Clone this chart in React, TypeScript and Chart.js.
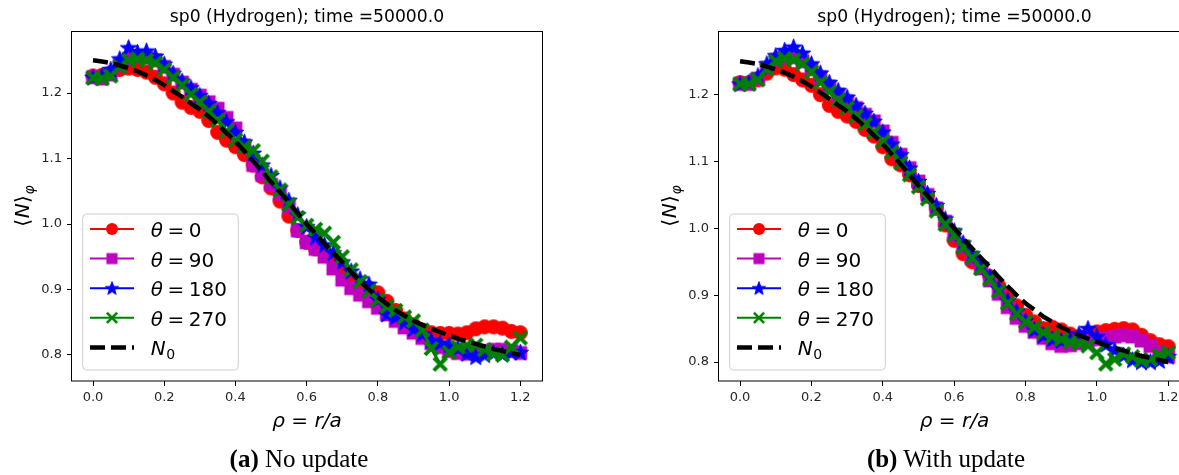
import React, { useEffect, useRef } from 'react';
import { Chart, registerables } from 'chart.js';

Chart.register(...registerables);

// ---------- data ----------
const RHO = [0, 0.025, 0.05, 0.075, 0.1, 0.125, 0.15, 0.175, 0.2, 0.225, 0.25, 0.275, 0.3, 0.325, 0.35, 0.375, 0.4, 0.425, 0.45, 0.475, 0.5, 0.525, 0.55, 0.575, 0.6, 0.625, 0.65, 0.675, 0.7, 0.725, 0.75, 0.775, 0.8, 0.825, 0.85, 0.875, 0.9, 0.925, 0.95, 0.975, 1.0, 1.025, 1.05, 1.075, 1.1, 1.125, 1.15, 1.175, 1.2];

const N0 = [1.250, 1.248, 1.246, 1.242, 1.238, 1.233, 1.227, 1.220, 1.212, 1.203, 1.194, 1.184, 1.175, 1.164, 1.152, 1.139, 1.126, 1.111, 1.096, 1.080, 1.064, 1.049, 1.033, 1.016, 1.000, 0.985, 0.970, 0.956, 0.942, 0.927, 0.913, 0.900, 0.888, 0.878, 0.868, 0.860, 0.852, 0.846, 0.840, 0.835, 0.830, 0.825, 0.821, 0.817, 0.813, 0.809, 0.806, 0.803, 0.800];

// (a) No update
const A_THETA_0 = [1.226, 1.227, 1.231, 1.236, 1.238, 1.236, 1.232, 1.224, 1.214, 1.200, 1.186, 1.178, 1.172, 1.158, 1.140, 1.128, 1.118, 1.106, 1.090, 1.072, 1.055, 1.035, 1.012, 0.990, 0.972, 0.962, 0.958, 0.945, 0.930, 0.918, 0.905, 0.902, 0.895, 0.882, 0.868, 0.855, 0.846, 0.838, 0.834, 0.833, 0.833, 0.832, 0.834, 0.840, 0.843, 0.843, 0.841, 0.836, 0.834];
const A_THETA_90 = [1.224, 1.222, 1.228, 1.242, 1.252, 1.256, 1.254, 1.250, 1.240, 1.228, 1.216, 1.205, 1.196, 1.186, 1.176, 1.162, 1.146, 1.120, 1.090, 1.075, 1.060, 1.046, 1.026, 0.990, 0.972, 0.962, 0.950, 0.932, 0.915, 0.902, 0.892, 0.882, 0.872, 0.862, 0.852, 0.842, 0.834, 0.826, 0.818, 0.812, 0.806, 0.803, 0.802, 0.803, 0.806, 0.808, 0.808, 0.806, 0.803];
const A_THETA_180 = [1.224, 1.226, 1.236, 1.252, 1.269, 1.262, 1.264, 1.256, 1.244, 1.230, 1.218, 1.208, 1.196, 1.184, 1.170, 1.156, 1.140, 1.125, 1.108, 1.090, 1.074, 1.055, 1.036, 1.014, 0.996, 0.980, 0.968, 0.956, 0.942, 0.928, 0.916, 0.908, 0.885, 0.862, 0.858, 0.850, 0.840, 0.832, 0.822, 0.818, 0.815, 0.810, 0.802, 0.797, 0.800, 0.803, 0.801, 0.804, 0.804];
const A_THETA_270 = [1.223, 1.222, 1.226, 1.240, 1.250, 1.252, 1.250, 1.246, 1.236, 1.224, 1.212, 1.198, 1.186, 1.172, 1.158, 1.142, 1.128, 1.118, 1.112, 1.096, 1.072, 1.052, 1.030, 1.010, 0.998, 0.992, 0.986, 0.972, 0.950, 0.930, 0.912, 0.898, 0.884, 0.874, 0.868, 0.858, 0.852, 0.838, 0.810, 0.786, 0.804, 0.812, 0.815, 0.815, 0.808, 0.802, 0.800, 0.812, 0.826];

// (b) With update
const B_THETA_0 = [1.218, 1.218, 1.222, 1.232, 1.240, 1.238, 1.230, 1.222, 1.214, 1.200, 1.184, 1.175, 1.168, 1.160, 1.148, 1.138, 1.122, 1.104, 1.095, 1.080, 1.064, 1.048, 1.030, 1.005, 0.982, 0.962, 0.950, 0.942, 0.928, 0.914, 0.900, 0.884, 0.870, 0.860, 0.850, 0.852, 0.848, 0.842, 0.838, 0.840, 0.845, 0.847, 0.849, 0.850, 0.848, 0.840, 0.832, 0.826, 0.823];
const B_THETA_90 = [1.216, 1.216, 1.224, 1.240, 1.252, 1.256, 1.256, 1.250, 1.238, 1.226, 1.212, 1.200, 1.190, 1.180, 1.170, 1.160, 1.145, 1.128, 1.110, 1.090, 1.070, 1.050, 1.030, 1.010, 0.990, 0.972, 0.955, 0.940, 0.922, 0.902, 0.882, 0.866, 0.854, 0.845, 0.836, 0.828, 0.824, 0.825, 0.828, 0.832, 0.834, 0.836, 0.838, 0.840, 0.838, 0.832, 0.824, 0.815, 0.808];
const B_THETA_180 = [1.216, 1.218, 1.228, 1.246, 1.258, 1.266, 1.271, 1.262, 1.246, 1.232, 1.218, 1.206, 1.196, 1.184, 1.172, 1.160, 1.144, 1.126, 1.110, 1.090, 1.070, 1.052, 1.034, 1.014, 0.996, 0.978, 0.962, 0.946, 0.928, 0.910, 0.892, 0.876, 0.862, 0.848, 0.840, 0.834, 0.832, 0.834, 0.842, 0.850, 0.838, 0.826, 0.818, 0.810, 0.803, 0.800, 0.800, 0.802, 0.808];
const B_THETA_270 = [1.216, 1.216, 1.222, 1.238, 1.250, 1.254, 1.252, 1.246, 1.234, 1.218, 1.204, 1.192, 1.180, 1.168, 1.156, 1.144, 1.130, 1.114, 1.098, 1.080, 1.062, 1.044, 1.026, 1.006, 0.990, 0.972, 0.956, 0.940, 0.924, 0.906, 0.888, 0.872, 0.860, 0.852, 0.844, 0.838, 0.834, 0.830, 0.828, 0.824, 0.814, 0.797, 0.804, 0.812, 0.808, 0.802, 0.804, 0.810, 0.814];

const THETA_LABELS = ['0', '90', '180', '270'];
const SERIES_COLORS = ['#ff0000', '#bf00bf', '#0000ff', '#008000'];
const SERIES_MARKERS = ['circle', 'square', 'star', 'x'];
const X_TICKS = [0, 0.2, 0.4, 0.6, 0.8, 1.0, 1.2];
const Y_TICKS = [0.8, 0.9, 1.0, 1.1, 1.2];
const TITLE = 'sp0 (Hydrogen); time =50000.0';
const X_LABEL = 'ρ = r/a';
const CAPTIONS = [['(a)', 'No update'], ['(b)', 'With update']];

const FONT = 'DejaVu Sans';

// ---------- helpers ----------
function makeMarker(kind: string, color: string, s: number, xWidth: number): HTMLCanvasElement {
  const c = document.createElement('canvas');
  const size = Math.ceil(s * 2 + 4);
  c.width = size;
  c.height = size;
  const g = c.getContext('2d') as CanvasRenderingContext2D;
  g.fillStyle = color;
  g.strokeStyle = color;
  const m = size / 2;
  if (kind === 'circle') {
    g.beginPath();
    g.arc(m, m, s, 0, Math.PI * 2);
    g.fill();
  } else if (kind === 'square') {
    g.fillRect(m - s * 0.92, m - s * 0.92, s * 1.84, s * 1.84);
  } else if (kind === 'star') {
    g.beginPath();
    for (let k = 0; k < 10; k++) {
      const r = k % 2 === 0 ? s * 1.17 : s * 0.48;
      const a = -Math.PI / 2 + (k * Math.PI) / 5;
      const px = m + r * Math.cos(a);
      const py = m + 0.5 + r * Math.sin(a);
      if (k === 0) g.moveTo(px, py);
      else g.lineTo(px, py);
    }
    g.closePath();
    g.fill();
    g.lineWidth = 1;
    g.stroke();
  } else {
    const h = s * 0.85;
    g.lineWidth = xWidth;
    g.beginPath();
    g.moveTo(m - h, m - h);
    g.lineTo(m + h, m + h);
    g.moveTo(m + h, m - h);
    g.lineTo(m - h, m + h);
    g.stroke();
  }
  return c;
}

type Part = { t: string; italic?: boolean; size?: number; dy?: number; gap?: number };

function drawParts(ctx: CanvasRenderingContext2D, parts: Part[], x: number, baseline: number, measureOnly = false): number {
  let cx = x;
  for (const p of parts) {
    const size = p.size || 20;
    ctx.font = `${p.italic ? 'italic ' : ''}${size}px "${FONT}"`;
    if (!measureOnly) ctx.fillText(p.t, cx, baseline + (p.dy || 0));
    cx += ctx.measureText(p.t).width + (p.gap || 0);
  }
  return cx - x;
}

function makeDecor(markers: HTMLCanvasElement[]) {
  return {
    id: 'decor',
    afterDraw(chart: any) {
      const ctx: CanvasRenderingContext2D = chart.ctx;
      const { left, right, top, bottom } = chart.chartArea;
      ctx.save();
      // spines
      ctx.strokeStyle = '#000';
      ctx.lineWidth = 1;
      ctx.strokeRect(Math.round(left) - 0.5, Math.round(top) + 0.5, Math.round(right - left) + 1, Math.round(bottom - top) - 0.5);

      // y label  <N>_phi
      ctx.fillStyle = '#000';
      ctx.textAlign = 'left';
      ctx.textBaseline = 'alphabetic';
      const yParts: Part[] = [
        { t: '⟨', size: 20, gap: 0.5 },
        { t: 'N', italic: true, size: 20, gap: 0.5 },
        { t: '⟩', size: 20, gap: 0.5 },
        { t: 'φ', italic: true, size: 14, dy: 5 },
      ];
      const w = drawParts(ctx, yParts, 0, 0, true);
      ctx.save();
      ctx.translate(left - 50, (top + bottom) / 2);
      ctx.rotate(-Math.PI / 2);
      drawParts(ctx, yParts, -w / 2, 7);
      ctx.restore();

      // legend
      const bx = left + 10.7;
      const by = bottom - 167;
      const bw = 155.6;
      const bh = 156;
      ctx.beginPath();
      const r = 4;
      ctx.moveTo(bx + r, by);
      ctx.lineTo(bx + bw - r, by);
      ctx.quadraticCurveTo(bx + bw, by, bx + bw, by + r);
      ctx.lineTo(bx + bw, by + bh - r);
      ctx.quadraticCurveTo(bx + bw, by + bh, bx + bw - r, by + bh);
      ctx.lineTo(bx + r, by + bh);
      ctx.quadraticCurveTo(bx, by + bh, bx, by + bh - r);
      ctx.lineTo(bx, by + r);
      ctx.quadraticCurveTo(bx, by, bx + r, by);
      ctx.closePath();
      ctx.fillStyle = 'rgba(255,255,255,0.8)';
      ctx.fill();
      ctx.strokeStyle = '#cccccc';
      ctx.lineWidth = 1;
      ctx.stroke();

      const lx0 = left + 18;
      const lx1 = left + 62;
      const tx = left + 78.7;
      for (let i = 0; i < 5; i++) {
        const cy = bottom - 152 + i * 29.6;
        if (i < 4) {
          ctx.strokeStyle = SERIES_COLORS[i];
          ctx.lineWidth = 2;
          ctx.setLineDash([]);
          ctx.beginPath();
          ctx.moveTo(lx0, cy);
          ctx.lineTo(lx1, cy);
          ctx.stroke();
          const mk = markers[i];
          ctx.drawImage(mk, (lx0 + lx1) / 2 - mk.width / 2, cy - mk.height / 2);
          ctx.fillStyle = '#000';
          drawParts(ctx, [
            { t: 'θ', italic: true, gap: 4.5 },
            { t: '=', gap: 4.5 },
            { t: THETA_LABELS[i] },
          ], tx, cy + 8);
        } else {
          ctx.strokeStyle = '#000';
          ctx.lineWidth = 4.5;
          ctx.setLineDash([15, 6]);
          ctx.beginPath();
          ctx.moveTo(lx0, cy);
          ctx.lineTo(lx1, cy);
          ctx.stroke();
          ctx.setLineDash([]);
          ctx.fillStyle = '#000';
          drawParts(ctx, [
            { t: 'N', italic: true, gap: 0.5 },
            { t: '0', size: 14, dy: 4 },
          ], tx, cy + 8);
        }
      }
      ctx.restore();
    },
  };
}

function makeConfig(series: number[][], yMin: number, yMax: number, axisWidth: number, padRight: number, plotMarkers: HTMLCanvasElement[], legendMarkers: HTMLCanvasElement[]): any {
  const datasets: any[] = series.map((vals, i) => ({
    label: `θ = ${THETA_LABELS[i]}`,
    data: RHO.map((x, j) => ({ x, y: vals[j] })),
    showLine: true,
    borderColor: SERIES_COLORS[i],
    backgroundColor: SERIES_COLORS[i],
    borderWidth: 3,
    pointStyle: plotMarkers[i],
    pointRadius: 7,
    pointHoverRadius: 7,
    order: 5 - i,
  }));
  datasets.push({
    label: 'N0',
    data: RHO.map((x, j) => ({ x, y: N0[j] })),
    showLine: true,
    borderColor: '#000',
    backgroundColor: '#000',
    borderWidth: 4.5,
    borderDash: [15, 6],
    pointRadius: 0,
    order: 0,
  });
  const gridOpts = { display: true, drawOnChartArea: false, drawTicks: true, tickLength: 5, color: '#000', lineWidth: 1 };
  const tickFont = { family: FONT, size: 13 };
  return {
    type: 'scatter',
    data: { datasets },
    options: {
      animation: false,
      responsive: false,
      maintainAspectRatio: false,
      events: [],
      layout: { padding: { left: 0, right: padRight, top: 0, bottom: 41 } },
      plugins: {
        legend: { display: false },
        tooltip: { enabled: false },
        title: {
          display: true,
          text: TITLE,
          fullSize: false,
          color: '#000',
          font: { family: FONT, size: 17.2, weight: 'normal', lineHeight: 1.2 },
          padding: { top: 7, bottom: 3.36 },
        },
      },
      scales: {
        x: {
          type: 'linear',
          min: -0.059,
          max: 1.261,
          afterBuildTicks: (ax: any) => { ax.ticks = X_TICKS.map((v) => ({ value: v })); },
          afterFit: (ax: any) => { ax.height = 53; },
          grid: gridOpts,
          border: { display: false },
          ticks: { color: '#262626', font: tickFont, padding: 4, maxRotation: 0, autoSkip: false, callback: (v: any) => Number(v).toFixed(1) },
          title: { display: true, text: X_LABEL, color: '#000', font: { family: FONT, size: 20, style: 'italic', lineHeight: 1.2 }, padding: { top: 0, bottom: 0 } },
        },
        y: {
          type: 'linear',
          min: yMin,
          max: yMax,
          afterBuildTicks: (ax: any) => { ax.ticks = Y_TICKS.map((v) => ({ value: v })); },
          afterFit: (ax: any) => { ax.width = axisWidth; },
          grid: gridOpts,
          border: { display: false },
          ticks: { color: '#262626', font: tickFont, padding: 5, callback: (v: any) => Number(v).toFixed(1) },
        },
      },
    },
    plugins: [makeDecor(legendMarkers)],
  };
}

export default function App() {
  const leftRef = useRef<HTMLCanvasElement>(null);
  const rightRef = useRef<HTMLCanvasElement>(null);

  useEffect(() => {
    const plotMarkers = SERIES_MARKERS.map((k, i) => makeMarker(k, SERIES_COLORS[i], 7.5, 4));
    const legendMarkers = SERIES_MARKERS.map((k, i) => makeMarker(k, SERIES_COLORS[i], 6, 2.7));
    const charts: Chart[] = [];
    if (leftRef.current) {
      charts.push(new Chart(leftRef.current, makeConfig([A_THETA_0, A_THETA_90, A_THETA_180, A_THETA_270], 0.7603, 1.2947, 72, 48, plotMarkers, legendMarkers)));
    }
    if (rightRef.current) {
      charts.push(new Chart(rightRef.current, makeConfig([B_THETA_0, B_THETA_90, B_THETA_180, B_THETA_270], 0.7716, 1.2952, 129, 10, plotMarkers, legendMarkers)));
    }
    return () => charts.forEach((c) => c.destroy());
  }, []);

  const captionStyle = (center: number): React.CSSProperties => ({
    position: 'absolute',
    left: center - 200,
    width: 400,
    top: 446,
    textAlign: 'center',
    fontFamily: '"Liberation Serif", serif',
    fontSize: 25,
    lineHeight: '25px',
    color: '#000',
    whiteSpace: 'nowrap',
  });

  return (
    <div style={{ position: 'fixed', left: 0, top: 0, width: 1179, height: 475, overflow: 'hidden', background: '#fff' }}>
      <canvas ref={leftRef} width={590} height={475} style={{ position: 'absolute', left: 0, top: 0, width: 590, height: 475 }} />
      <canvas ref={rightRef} width={610} height={475} style={{ position: 'absolute', left: 590, top: 0, width: 610, height: 475 }} />
      <div style={captionStyle(299)}><b>{CAPTIONS[0][0]}</b> {CAPTIONS[0][1]}</div>
      <div style={captionStyle(946)}><b>{CAPTIONS[1][0]}</b> {CAPTIONS[1][1]}</div>
    </div>
  );
}
